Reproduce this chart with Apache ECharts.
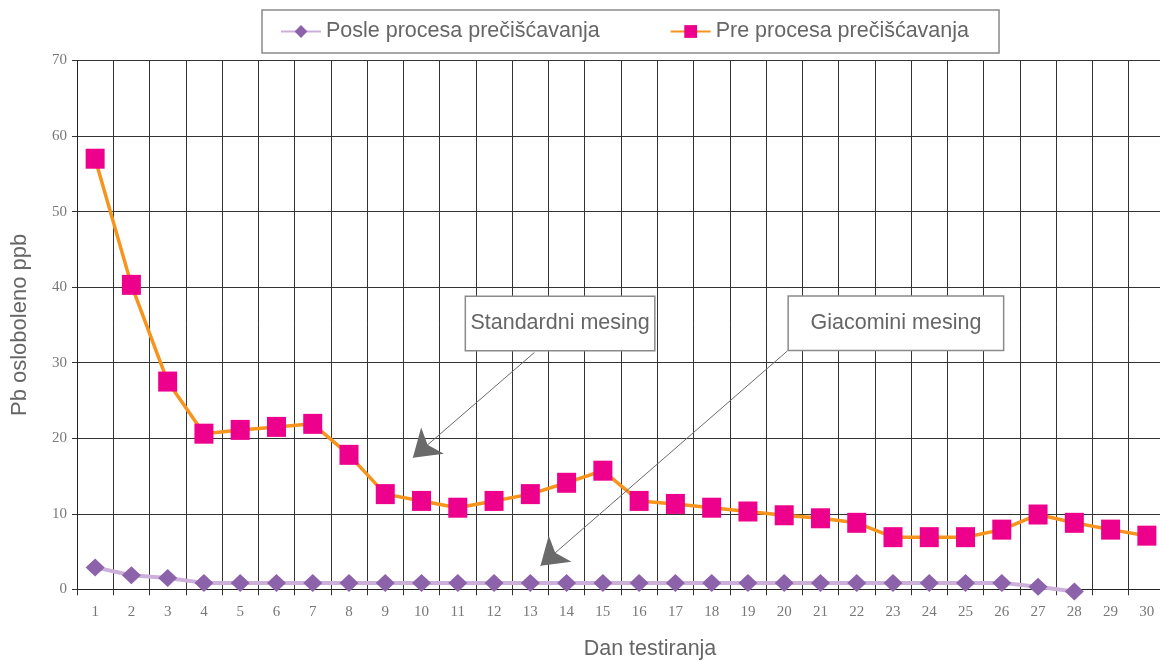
<!DOCTYPE html>
<html><head><meta charset="utf-8">
<script src="https://cdn.jsdelivr.net/npm/echarts@6/dist/echarts.min.js"></script>
<style>html,body{margin:0;padding:0;background:#fff}#c{width:1160px;height:661px}</style>
</head><body><div id="c"></div>
<script>
const days = ['1','2','3','4','5','6','7','8','9','10','11','12','13','14','15','16','17','18','19','20','21','22','23','24','25','26','27','28','29','30'];
const yTicks = [0,10,20,30,40,50,60,70];
const posle = [2.9,1.85,1.5,0.85,0.85,0.85,0.85,0.85,0.85,0.85,0.85,0.85,0.85,0.85,0.85,0.85,0.85,0.85,0.85,0.85,0.85,0.85,0.85,0.85,0.85,0.85,0.35,-0.3,null,null];
const pre = [57.0,40.3,27.5,20.6,21.1,21.5,21.9,17.8,12.6,11.7,10.8,11.7,12.6,14.1,15.7,11.7,11.3,10.8,10.3,9.8,9.4,8.8,6.9,6.9,6.9,7.9,9.9,8.8,7.9,7.1];
const seriesNames = ['Posle procesa prečišćavanja','Pre procesa prečišćavanja'];
const annotLabels = ['Standardni mesing','Giacomini mesing'];
// annotation positions in (day, ppb) units
const annotBoxes = [[13.82,35.2],[23.08,35.22]];
const annotArrows = [[[13.11,31.34],[9.76,17.43]],[[20.09,31.56],[13.28,3.13]]];

const SANS = 'Liberation Sans';
const chart = echarts.init(document.getElementById('c'));
chart.setOption({
  animation:false,
  legend:{
    data:seriesNames, left:262, top:10,
    padding:[9,30,9,18], itemGap:70, itemWidth:40, itemHeight:16,
    borderColor:'#8a8a8a', borderWidth:1.5,
    textStyle:{fontFamily:SANS,fontSize:21.5,color:'#666',lineHeight:25}
  },
  grid:{left:77,right:-5,top:60.5,bottom:71.7,outerBoundsMode:'none',containLabel:false},
  xAxis:[{
    type:'category', data:days, boundaryGap:true,
    name:'Dan testiranja', nameLocation:'middle', nameGap:49,
    nameTextStyle:{fontFamily:SANS,fontSize:21.5,color:'#666',padding:[0,0,0,58]},
    axisLine:{lineStyle:{color:'#222',width:1}},
    axisTick:{show:true,length:6,lineStyle:{color:'#333'}},
    axisLabel:{fontFamily:'Liberation Serif',fontSize:15,color:'#777',margin:15},
    splitLine:{show:true,lineStyle:{color:'#333',width:1}}
  },{
    type:'value', min:0.5, max:30.5, show:false
  }],
  yAxis:{
    type:'value', min:0, max:70, interval:10,
    name:'Pb osloboleno ppb', nameLocation:'middle', nameGap:46,
    nameTextStyle:{fontFamily:SANS,fontSize:22,color:'#666'},
    axisLine:{show:true,lineStyle:{color:'#222',width:1}},
    axisTick:{show:true,length:5,lineStyle:{color:'#333'}},
    axisLabel:{fontFamily:'Liberation Serif',fontSize:15,color:'#777',margin:10,
      formatter:v=>yTicks.includes(v)?String(v):''},
    splitLine:{show:true,lineStyle:{color:'#333',width:1}}
  },
  series:[
    {name:seriesNames[0],type:'line',data:posle,clip:false,
     symbol:'diamond',symbolSize:[19,18],
     itemStyle:{color:'#8c62aa'},lineStyle:{color:'#cdb0da',width:4},z:3},
    {name:seriesNames[1],type:'line',data:pre,clip:false,
     symbol:'rect',symbolSize:[19,20],
     itemStyle:{color:'#ec008c'},lineStyle:{color:'#f7941d',width:3.5},z:4},
    {name:'annot',type:'line',xAxisIndex:1,data:[],silent:true,z:6,
     markLine:{silent:true,symbol:['none','arrow'],symbolSize:26,
       lineStyle:{color:'#6a6a6a',width:1,type:'solid'},
       itemStyle:{color:'#6a6a6a'},label:{show:false},
       data:annotArrows.map(a=>[{coord:a[0]},{coord:a[1]}])},
     markPoint:{silent:true,
       data:annotBoxes.map((c,i)=>({coord:c,symbol:'circle',symbolSize:1,
         itemStyle:{color:'transparent'},
         label:{show:true,position:'inside',formatter:annotLabels[i],
           width:i===0?188:214,height:53,lineHeight:53,align:'center',verticalAlign:'middle',
           backgroundColor:'#fff',borderColor:'#8a8a8a',borderWidth:1.5,padding:0,
           fontFamily:SANS,fontSize:21.5,color:'#666'}}))}
    }
  ]
});
</script></body></html>
